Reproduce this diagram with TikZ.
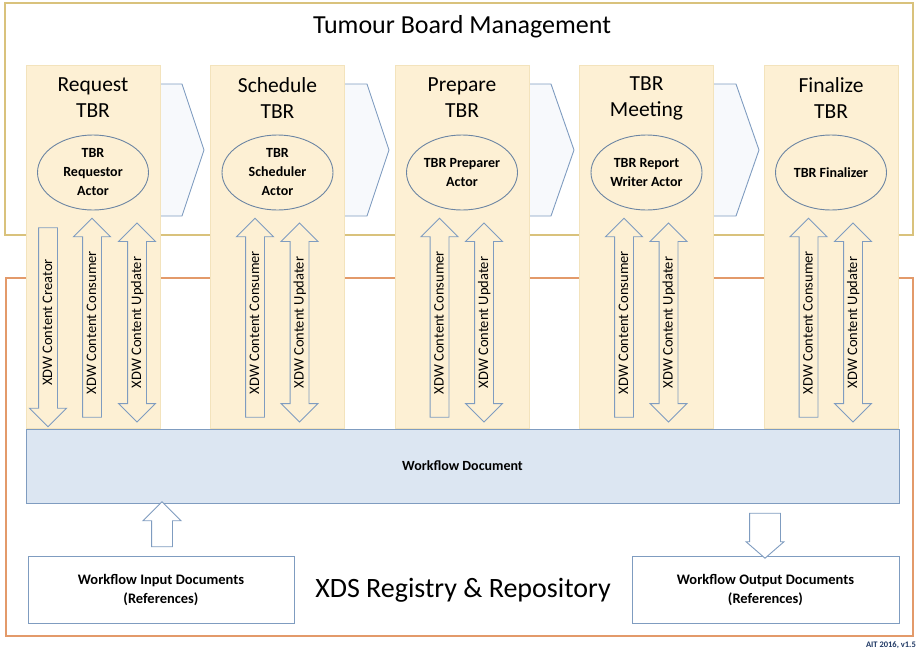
\documentclass[tikz,border=0pt]{standalone}
\usepackage{fontspec}
\setmainfont{Carlito}
\usetikzlibrary{shapes.geometric,shapes.arrows}

\definecolor{boardline}{HTML}{D9C27C}
\definecolor{xdsline}{HTML}{E39A6A}
\definecolor{stagefill}{HTML}{FDF0D4}
\definecolor{stageedge}{HTML}{F3E3BC}
\definecolor{blueline}{HTML}{7F9CC0}
\definecolor{wffill}{HTML}{DCE6F2}
\definecolor{chevfill}{HTML}{F7F9FC}
\definecolor{navy}{HTML}{1F3864}

\begin{document}
\begin{tikzpicture}[x=1pt,y=-1pt,
    stage/.style={rectangle,fill=stagefill,draw=stageedge,line width=0.4pt,
      minimum width=134pt,minimum height=363pt,inner sep=0pt},
    stagetitle/.style={align=center,inner sep=0pt,
      font=\fontsize{21.5}{26}\selectfont},
    actor/.style={ellipse,draw=blueline!85!black,line width=0.9pt,fill=stagefill,
      minimum width=111pt,minimum height=75pt,inner sep=0pt,align=center,
      font=\bfseries\fontsize{14}{19}\selectfont},
    xdw/.style={draw=blueline,line width=0.9pt,fill=stagefill,rotate=90,
      font=\fontsize{14.5}{16}\selectfont,text height=9.5pt,text depth=1.5pt,
      inner xsep=2pt,inner ysep=3.5pt,minimum height=199pt},
    upxdw/.style={xdw,single arrow,single arrow head extend=9pt},
    downxdw/.style={xdw,single arrow,single arrow head extend=9pt,shape border rotate=180},
    bothxdw/.style={xdw,double arrow,double arrow head extend=9pt},
    chev/.style={draw=blueline,line width=0.9pt,fill=chevfill},
    docbox/.style={rectangle,draw=blueline,line width=0.9pt,fill=white,
      minimum width=266pt,minimum height=67pt,align=center,
      font=\bfseries\fontsize{14.5}{19}\selectfont},
    blockarrow/.style={single arrow,draw=blueline,line width=0.9pt,fill=white,
      inner xsep=0pt,text height=0pt,text depth=0pt,minimum height=45pt}]

  \useasboundingbox (0,0) rectangle (917,651);

  % outer frames
  \draw[boardline,line width=1.3pt] (5,3) rectangle (913,235);
  \draw[xdsline,line width=1.4pt] (6,278) rectangle (913,636);
  \node (board) at (462,27) {\fontsize{26}{30}\selectfont Tumour Board Management};

  % chevrons between the stages
  \draw[chev] (150,84) -- (182,84) -- (204,150) -- (182,216) -- (150,216) -- cycle;
  \draw[chev] (335,84) -- (367,84) -- (389,150) -- (367,216) -- (335,216) -- cycle;
  \draw[chev] (520,84) -- (551,84) -- (574,150) -- (551,216) -- (520,216) -- cycle;
  \draw[chev] (704,84) -- (736,84) -- (759,150) -- (736,216) -- (704,216) -- cycle;

  % stages
  \node[stage] (s1) at (93,246.5) {};
  \node[stage] (s2) at (277.5,246.5) {};
  \node[stage] (s3) at (462,246.5) {};
  \node[stage] (s4) at (646.5,246.5) {};
  \node[stage] (s5) at (831,246.5) {};

  \node[stagetitle] (t1) at (93,98) {Request\\TBR};
  \node[stagetitle] (t2) at (277.5,98) {Schedule\\TBR};
  \node[stagetitle] (t3) at (462,98) {Prepare\\TBR};
  \node[stagetitle] (t4) at (646.5,98) {TBR\\Meeting};
  \node[stagetitle] (t5) at (831,98) {Finalize\\TBR};

  \node[actor] (a1) at (93,172.5) {TBR\\Requestor\\Actor};
  \node[actor] (a2) at (277.5,172.5) {TBR\\Scheduler\\Actor};
  \node[actor] (a3) at (462,172.5) {TBR Preparer\\Actor};
  \node[actor] (a4) at (646.5,172.5) {TBR Report\\Writer Actor};
  \node[actor] (a5) at (831,172.5) {TBR Finalizer};

  % XDW actors
  \node[downxdw] (cr1) at (48,322.5) {XDW Content Creator};
  \node[upxdw] (co1) at (92,322.5) {XDW Content Consumer};
  \node[bothxdw] (up1) at (137,322.5) {XDW Content Updater};
  \node[upxdw] (co2) at (255,322.5) {XDW Content Consumer};
  \node[bothxdw] (up2) at (299.5,322.5) {XDW Content Updater};
  \node[upxdw] (co3) at (439.5,322.5) {XDW Content Consumer};
  \node[bothxdw] (up3) at (484,322.5) {XDW Content Updater};
  \node[upxdw] (co4) at (624,322.5) {XDW Content Consumer};
  \node[bothxdw] (up4) at (668.5,322.5) {XDW Content Updater};
  \node[upxdw] (co5) at (808.5,322.5) {XDW Content Consumer};
  \node[bothxdw] (up5) at (853,322.5) {XDW Content Updater};

  % workflow document and XDS
  \node[rectangle,draw=blueline,line width=0.9pt,fill=wffill,minimum width=873pt,
    minimum height=74pt,font=\bfseries\fontsize{14}{17}\selectfont] (wf) at (462.5,466) {Workflow Document};

  \node[docbox] (inbox) at (161,589.5) {Workflow Input Documents\\(References)};
  \node[docbox,minimum width=267pt] (outbox) at (765.5,589.5) {Workflow Output Documents\\(References)};
  \node (xds) at (463,590) {\fontsize{28}{32}\selectfont XDS Registry \& Repository};

  \node[blockarrow,rotate=90,inner ysep=10pt,single arrow head extend=8.5pt] (inarrow) at (162,529.5) {};
  \node[blockarrow,rotate=-90,inner ysep=15pt,single arrow head extend=3.5pt,
    single arrow tip angle=98] (outarrow) at (765,529) {};

  \node[anchor=east,inner sep=0pt,text=navy,font=\bfseries\fontsize{8.5}{10}\selectfont] (ver) at (916,645) {AIT 2016, v1.5};
\end{tikzpicture}
\end{document}
